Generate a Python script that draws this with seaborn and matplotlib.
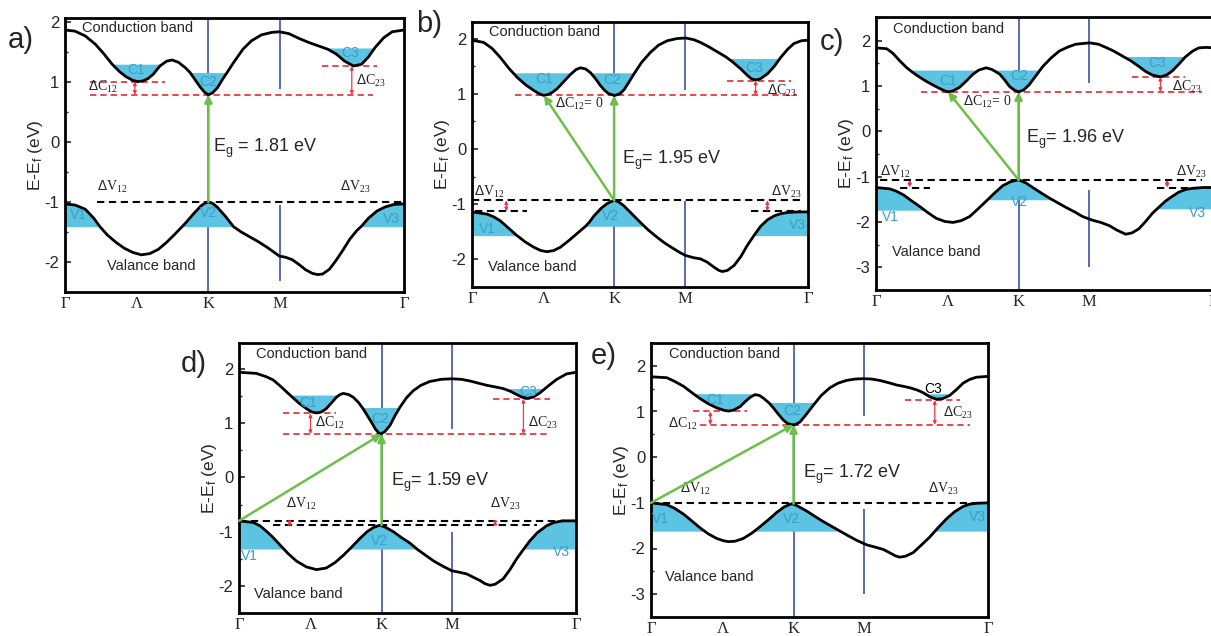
import matplotlib
matplotlib.use('Agg')
import matplotlib.pyplot as plt
import seaborn as sns
import numpy as np

# k-path (fraction of the Gamma-K-M-Gamma path)
k_ticks = [0.0, 0.213, 0.423, 0.633, 1.0]
k_labels = ['Γ', 'Λ', 'K', 'M', 'Γ']

# ---------------- panel a ----------------
a_k_cb = [0, .03, .06, .09, .115, .139, .16, .18, .20, .215, .23, .245, .26, .28, .30, .316, .335,
          .355, .369, .385, .40, .412, .423, .435, .45, .465, .478, .50, .525, .55, .58, .61, .632,
          .66, .69, .72, .75, .775, .80, .825, .851, .875, .895, .915, .94, .965, 1.0]
a_cb = [1.87, 1.85, 1.77, 1.63, 1.47, 1.30, 1.18, 1.09, 1.03, 1.01, 1.02, 1.06, 1.13, 1.27, 1.35,
        1.37, 1.33, 1.24, 1.16, 1.03, 0.91, 0.83, 0.79, 0.82, 0.91, 1.05, 1.16, 1.35, 1.55, 1.69,
        1.79, 1.83, 1.84, 1.81, 1.73, 1.66, 1.60, 1.55, 1.47, 1.35, 1.27, 1.30, 1.42, 1.58, 1.74,
        1.84, 1.87]
a_k_vb = [0, .03, .06, .085, .103, .125, .15, .175, .20, .225, .25, .275, .30, .325, .354, .38, .40,
          .412, .423, .435, .45, .475, .497, .52, .545, .57, .595, .615, .632, .65, .67, .69, .71,
          .73, .745, .76, .78, .80, .82, .84, .86, .875, .895, .92, .945, .97, 1.0]
a_vb = [-1.03, -1.05, -1.12, -1.27, -1.41, -1.55, -1.67, -1.77, -1.84, -1.88, -1.86, -1.79, -1.67,
        -1.53, -1.36, -1.19, -1.07, -1.02, -1.00, -1.02, -1.09, -1.25, -1.41, -1.50, -1.58, -1.66,
        -1.75, -1.83, -1.90, -1.92, -1.96, -2.04, -2.13, -2.19, -2.21, -2.20, -2.12, -1.97, -1.80,
        -1.62, -1.48, -1.40, -1.27, -1.15, -1.08, -1.04, -1.03]
a_c_fill = [1.30, 1.16, 1.57]
a_v_fill = [-1.41, -1.41, -1.41]
a_c_k = [0.215, 0.423, 0.851]     # k of C1, C2, C3 minima
a_c_min = [1.01, 0.79, 1.27]
a_v_max = [-1.00, -1.00, -1.00]   # V1, V2, V3 maxima
a_eg = 1.81

# ---------------- panel b ----------------
b_k_cb = [0, .035, .06, .084, .11, .134, .16, .184, .20, .214, .228, .24, .253, .273, .293, .31,
          .323, .338, .353, .368, .382, .395, .407, .425, .44, .452, .467, .482, .505, .531, .555,
          .581, .61, .636, .66, .68, .705, .73, .755, .775, .80, .82, .832, .844, .858, .879, .90,
          .919, .94, .958, .98, 1.0]
b_cb = [1.97, 1.93, 1.82, 1.66, 1.46, 1.30, 1.16, 1.06, 1.00, 0.97, 0.99, 1.03, 1.09, 1.22, 1.35,
        1.44, 1.47, 1.45, 1.38, 1.27, 1.15, 1.06, 1.00, 0.97, 1.00, 1.07, 1.21, 1.36, 1.57, 1.75,
        1.88, 1.96, 2.00, 2.01, 1.98, 1.93, 1.85, 1.76, 1.67, 1.58, 1.45, 1.33, 1.27, 1.25, 1.27,
        1.36, 1.50, 1.66, 1.81, 1.91, 1.96, 1.97]
b_k_vb = [0, .045, .065, .084, .11, .134, .16, .184, .205, .223, .243, .263, .288, .313, .338, .35,
          .362, .385, .402, .415, .425, .437, .452, .475, .501, .525, .551, .575, .601, .62, .636,
          .66, .68, .70, .72, .735, .745, .76, .78, .80, .819, .84, .859, .88, .90, .92, .94, .97,
          1.0]
b_vb = [-1.14, -1.18, -1.23, -1.30, -1.44, -1.57, -1.69, -1.78, -1.84, -1.86, -1.84, -1.78, -1.66,
        -1.53, -1.40, -1.32, -1.22, -1.07, -0.99, -0.95, -0.93, -0.96, -1.03, -1.17, -1.33, -1.47,
        -1.60, -1.71, -1.81, -1.88, -1.93, -1.97, -1.99, -2.05, -2.14, -2.20, -2.22, -2.20, -2.11,
        -1.95, -1.75, -1.56, -1.40, -1.28, -1.21, -1.17, -1.15, -1.14, -1.14]
b_c_fill = [1.38, 1.38, 1.64]
b_v_fill = [-1.57, -1.40, -1.57]
b_c_k = [0.214, 0.425, 0.844]
b_c_min = [0.97, 0.97, 1.24]
b_v_max = [-1.13, -0.93, -1.13]
b_eg = 1.95

# ---------------- panel c ----------------
c_k_cb = [0, .032, .05, .071, .09, .105, .12, .145, .169, .19, .205, .214, .228, .248, .268, .288,
          .305, .327, .345, .367, .382, .396, .41, .423, .438, .455, .475, .495, .52, .544, .57,
          .593, .634, .66, .682, .705, .731, .755, .78, .80, .82, .844, .862, .879, .90, .918, .94,
          .958, .98, 1.0]
c_cb = [1.84, 1.82, 1.72, 1.55, 1.41, 1.32, 1.24, 1.12, 1.02, 0.94, 0.89, 0.87, 0.89, 0.97, 1.11,
        1.26, 1.35, 1.40, 1.36, 1.26, 1.13, 0.99, 0.91, 0.87, 0.91, 1.03, 1.23, 1.43, 1.62, 1.77,
        1.86, 1.92, 1.95, 1.92, 1.85, 1.77, 1.66, 1.56, 1.43, 1.32, 1.24, 1.20, 1.24, 1.33, 1.49,
        1.64, 1.77, 1.84, 1.85, 1.84]
c_k_vb = [0, .041, .06, .081, .105, .13, .155, .179, .205, .229, .253, .278, .30, .327, .352, .376,
          .40, .423, .445, .465, .49, .514, .54, .564, .59, .613, .642, .667, .692, .715, .741, .76,
          .78, .80, .82, .84, .859, .88, .899, .92, .938, .97, 1.0]
c_vb = [-1.24, -1.27, -1.32, -1.40, -1.53, -1.66, -1.80, -1.92, -1.99, -2.01, -1.97, -1.88, -1.73,
        -1.54, -1.36, -1.20, -1.11, -1.07, -1.14, -1.24, -1.36, -1.47, -1.58, -1.68, -1.78, -1.88,
        -1.96, -2.01, -2.08, -2.18, -2.27, -2.24, -2.15, -1.99, -1.81, -1.67, -1.54, -1.43, -1.34,
        -1.28, -1.26, -1.24, -1.24]
c_c_fill = [1.35, 1.35, 1.65]
c_v_fill = [-1.74, -1.51, -1.71]
c_c_k = [0.214, 0.423, 0.844]
c_c_min = [0.87, 0.87, 1.20]
c_v_max = [-1.24, -1.07, -1.24]
c_eg = 1.96

# ---------------- panel d ----------------
d_k_cb = [0, .051, .08, .101, .12, .141, .16, .18, .20, .215, .23, .245, .259, .275, .289, .30,
          .309, .325, .339, .355, .368, .38, .393, .405, .418, .432, .448, .462, .477, .497, .517,
          .54, .566, .60, .631, .66, .685, .71, .735, .76, .784, .805, .824, .84, .855, .872, .893,
          .918, .943, .972, 1.0]
d_cb = [1.94, 1.92, 1.86, 1.80, 1.70, 1.58, 1.47, 1.36, 1.27, 1.21, 1.19, 1.21, 1.27, 1.38, 1.48,
        1.53, 1.55, 1.53, 1.48, 1.38, 1.27, 1.15, 1.02, 0.89, 0.80, 0.84, 0.96, 1.13, 1.29, 1.47,
        1.60, 1.70, 1.77, 1.81, 1.82, 1.81, 1.78, 1.74, 1.70, 1.67, 1.64, 1.59, 1.53, 1.48, 1.46,
        1.48, 1.56, 1.69, 1.81, 1.91, 1.94]
d_k_vb = [0, .042, .062, .081, .10, .121, .145, .170, .20, .23, .259, .285, .309, .335, .358, .38,
          .40, .418, .435, .458, .48, .507, .53, .557, .58, .606, .631, .655, .676, .695, .715, .73,
          .745, .76, .784, .804, .824, .845, .863, .885, .913, .935, .96, 1.0]
d_vb = [-0.80, -0.83, -0.89, -0.99, -1.10, -1.24, -1.40, -1.54, -1.65, -1.70, -1.67, -1.57, -1.44,
        -1.28, -1.13, -1.00, -0.92, -0.88, -0.92, -1.00, -1.10, -1.21, -1.33, -1.45, -1.55, -1.64,
        -1.72, -1.75, -1.78, -1.84, -1.90, -1.96, -1.99, -1.97, -1.87, -1.70, -1.50, -1.32, -1.17,
        -1.02, -0.89, -0.83, -0.80, -0.80]
d_c_fill = [1.52, 1.29, 1.64]
d_v_fill = [-1.32, -1.32, -1.32]
d_c_k = [0.23, 0.418, 0.855]
d_c_min = [1.18, 0.80, 1.45]
d_v_max = [-0.80, -0.88, -0.80]
d_eg = 1.59

# ---------------- panel e ----------------
e_k_cb = [0, .047, .07, .097, .12, .146, .17, .195, .215, .23, .245, .265, .28, .294, .309, .322,
          .334, .35, .363, .378, .393, .405, .418, .43, .442, .46, .482, .505, .531, .555, .58, .605,
          .63, .655, .679, .705, .729, .75, .768, .79, .808, .828, .847, .865, .886, .905, .926,
          .945, .965, 1.0]
e_cb = [1.76, 1.74, 1.66, 1.55, 1.42, 1.28, 1.17, 1.08, 1.03, 1.01, 1.03, 1.11, 1.22, 1.31, 1.37,
        1.35, 1.29, 1.19, 1.08, 0.94, 0.81, 0.74, 0.71, 0.72, 0.77, 0.93, 1.14, 1.35, 1.52, 1.62,
        1.68, 1.71, 1.72, 1.71, 1.68, 1.63, 1.58, 1.55, 1.52, 1.47, 1.41, 1.32, 1.27, 1.28, 1.35,
        1.47, 1.62, 1.70, 1.75, 1.77]
e_k_vb = [0, .047, .07, .097, .12, .146, .17, .195, .215, .23, .25, .274, .30, .324, .35, .373,
          .395, .41, .418, .43, .445, .462, .485, .511, .535, .561, .585, .61, .64, .665, .689, .71,
          .725, .738, .755, .778, .80, .827, .85, .877, .90, .926, .945, .965, 1.0]
e_vb = [-1.00, -1.04, -1.12, -1.25, -1.39, -1.55, -1.68, -1.78, -1.83, -1.85, -1.84, -1.78, -1.66,
        -1.52, -1.36, -1.21, -1.09, -1.04, -1.02, -1.05, -1.11, -1.18, -1.29, -1.41, -1.51, -1.62,
        -1.72, -1.82, -1.92, -1.97, -2.02, -2.10, -2.16, -2.19, -2.17, -2.09, -1.94, -1.75, -1.56,
        -1.35, -1.20, -1.08, -1.03, -1.01, -1.00]
e_c_fill = [1.39, 1.20, 1.39]
e_v_fill = [-1.62, -1.62, -1.62]
e_c_k = [0.23, 0.418, 0.847]
e_c_min = [1.00, 0.71, 1.25]
e_v_max = [-1.00, -1.02, -1.00]
e_eg = 1.72

FILL = '#5cc3e3'
LAB = '#3a9fc6'
RED = '#e63a44'
GREEN = '#6cc04a'
BLUE = '#4050a8'

sns.set_theme(style='ticks')
plt.rcParams['font.family'] = ['Liberation Sans', 'DejaVu Sans']
plt.rcParams['mathtext.fontset'] = 'custom'
plt.rcParams['mathtext.rm'] = 'Liberation Sans'
plt.rcParams['mathtext.it'] = 'Liberation Sans:italic'

# layout per panel (pixel box in the 1211x636 figure, axis limits, annotation spots)
panels = {
    'a': dict(k_cb=a_k_cb, cb=a_cb, k_vb=a_k_vb, vb=a_vb, cf=a_c_fill, vf=a_v_fill,
              ck=a_c_k, cmin=a_c_min, vmax=a_v_max, eg=a_eg, diag=None,
              box=(65, 404, 18, 292), ylim=(-2.32, 2.07), yt=[-2, -1, 0, 1, 2], tag=(8, 40),
              cb_txt=(0.049, 1.91), vb_txt=(0.123, -2.06), eg_xy=(0.437, -0.1), eg_sep=' = ',
              clab=[(0.21, 1.20), (0.423, 1.00), (0.84, 1.48)],
              vlab=[(0.04, -1.22), (0.423, -1.18), (0.963, -1.28)],
              c1_line=(0.074, 0.295), c2_line=(0.074, 0.910), c3_line=(0.757, 0.919),
              dc12=(0.206, (0.157, 0.93), 'right'), dc23=(0.846, (0.857, 1.02), 'left'),
              v_main=(0.093, 1.0), v1_line=None, v3_line=None, dv_arrows=None,
              dv12=(0.093, -0.88), dv23=(0.81, -0.88), m_gap=(0.88, -1.05)),
    'b': dict(k_cb=b_k_cb, cb=b_cb, k_vb=b_k_vb, vb=b_vb, cf=b_c_fill, vf=b_v_fill,
              ck=b_c_k, cmin=b_c_min, vmax=b_v_max, eg=b_eg, diag='k_to_c1',
              box=(472, 808, 22, 287), ylim=(-2.5, 2.3), yt=[-2, -1, 0, 1, 2], tag=(416, 24),
              cb_txt=(0.05, 2.11), vb_txt=(0.047, -2.14), eg_xy=(0.447, -0.21), eg_sep='= ',
              clab=[(0.214, 1.27), (0.417, 1.25), (0.839, 1.46)],
              vlab=[(0.047, -1.45), (0.412, -1.21), (0.968, -1.38)],
              c1_line=None, c2_line=(0.129, 0.968), c3_line=(0.760, 0.948),
              dc12=None, dc23=(0.844, (0.879, 1.06), 'left'), dc0=(0.248, 0.82),
              v_main=(0.0, 0.978), v1_line=(0.01, 0.164), v3_line=(0.829, 0.978),
              dv_arrows=(0.102, 0.879), dv12=(0.005, -0.93), dv23=(0.889, -0.93),
              m_gap=(1.06, -0.95)),
    'c': dict(k_cb=c_k_cb, cb=c_cb, k_vb=c_k_vb, vb=c_vb, cf=c_c_fill, vf=c_v_fill,
              ck=c_c_k, cmin=c_c_min, vmax=c_v_max, eg=c_eg, diag='k_to_c1',
              box=(876, 1213, 17, 290), ylim=(-3.0, 2.52), yt=[-3, -2, -1, 0, 1, 2], tag=(820, 42),
              cb_txt=(0.05, 2.26), vb_txt=(0.046, -2.66), eg_xy=(0.445, -0.19), eg_sep='= ',
              clab=[(0.214, 1.11), (0.426, 1.21), (0.834, 1.5)],
              vlab=[(0.043, -1.88), (0.426, -1.57), (0.953, -1.81)],
              c1_line=None, c2_line=(0.135, 0.967), c3_line=(0.761, 0.918),
              dc12=None, dc23=(0.844, (0.879, 0.98), 'left'), dc0=(0.258, 0.66),
              v_main=(0.012, 0.967), v1_line=(0.071, 0.160), v3_line=(0.834, 0.958),
              dv_arrows=(0.10, 0.864), dv12=(0.012, -1.07), dv23=(0.889, -1.07),
              m_gap=(1.06, -1.3)),
    'd': dict(k_cb=d_k_cb, cb=d_cb, k_vb=d_k_vb, vb=d_vb, cf=d_c_fill, vf=d_v_fill,
              ck=d_c_k, cmin=d_c_min, vmax=d_v_max, eg=d_eg, diag='g_to_k',
              box=(239, 576, 343, 613), ylim=(-2.48, 2.48), yt=[-2, -1, 0, 1, 2], tag=(181, 364),
              cb_txt=(0.05, 2.27), vb_txt=(0.044, -2.15), eg_xy=(0.452, -0.09), eg_sep='= ',
              clab=[(0.205, 1.38), (0.418, 1.08), (0.858, 1.58)],
              vlab=[(0.032, -1.44), (0.418, -1.18), (0.957, -1.38)],
              c1_line=(0.131, 0.289), c2_line=(0.131, 0.923), c3_line=(0.754, 0.923),
              dc12=(0.212, (0.225, 1.0), 'left'), dc23=(0.844, (0.858, 1.0), 'left'),
              v_main=(0.0, 1.0), v1_line=(0.10, 0.883), v3_line=None,
              dv_arrows=(0.15, 0.76), dv12=(0.14, -0.64), dv23=(0.745, -0.64),
              m_gap=(0.89, -1.0)),
    'e': dict(k_cb=e_k_cb, cb=e_cb, k_vb=e_k_vb, vb=e_vb, cf=e_c_fill, vf=e_v_fill,
              ck=e_c_k, cmin=e_c_min, vmax=e_v_max, eg=e_eg, diag='g_to_k',
              box=(651, 988, 343, 617), ylim=(-3.0, 2.5), yt=[-3, -2, -1, 0, 1, 2], tag=(591, 356),
              cb_txt=(0.052, 2.26), vb_txt=(0.042, -2.63), eg_xy=(0.452, -0.37), eg_sep='= ',
              clab=[(0.19, 1.26), (0.418, 1.02), (0.837, 1.49)],
              vlab=[(0.028, -1.35), (0.418, -1.35), (0.97, -1.31)],
              c1_line=(0.126, 0.284), c2_line=(0.146, 0.946), c3_line=(0.753, 0.916),
              dc12=(0.176, (0.05, 0.72), 'left'), dc23=(0.842, (0.867, 0.98), 'left'),
              v_main=(0.0, 0.985), v1_line=None, v3_line=None, dv_arrows=None,
              dv12=(0.087, -0.87), dv23=(0.822, -0.87), m_gap=(0.91, -1.14)),
}

c_win = [(0.05, 0.312), (0.312, 0.6), (0.7, 0.99)]
v_win = [(0.0, 0.25), (0.3, 0.56), (0.75, 1.0)]

W, H = 1211, 636
fig = plt.figure(figsize=(W / 100, H / 100), dpi=100)
dash = (0, (3.5, 2.2))
arr = dict(arrowstyle='<|-|>', color=RED, lw=0.9, mutation_scale=5, shrinkA=0, shrinkB=0)
garr = dict(arrowstyle='-|>', color=GREEN, lw=1.8, mutation_scale=11, shrinkA=0, shrinkB=0)
serif = dict(family='Liberation Serif', color='#222222', fontsize=10, zorder=6)

for key, p in panels.items():
    l, r, t, b = p['box']
    ax = fig.add_axes([l / W, 1 - b / H, (r - l) / W, (b - t) / H])
    k_cb, cb = np.array(p['k_cb']), np.array(p['cb'])
    k_vb, vb = np.array(p['k_vb']), np.array(p['vb'])
    y0, y1 = p['ylim']
    kK = k_ticks[2]

    # shaded valleys / hills
    for (w0, w1), lev in zip(c_win, p['cf']):
        ax.fill_between(k_cb, cb, lev, where=(cb <= lev) & (k_cb >= w0) & (k_cb <= w1),
                        interpolate=True, color=FILL, lw=0, zorder=1)
    for (w0, w1), lev in zip(v_win, p['vf']):
        ax.fill_between(k_vb, vb, lev, where=(vb >= lev) & (k_vb >= w0) & (k_vb <= w1),
                        interpolate=True, color=FILL, lw=0, zorder=1)

    # high-symmetry lines
    ax.axvline(kK, color=BLUE, lw=1.2, zorder=0.5)
    gt, gb = p['m_gap']
    ax.vlines(k_ticks[3], gt, y1, color=BLUE, lw=1.2, zorder=0.5)
    ax.vlines(k_ticks[3], y0, gb, color=BLUE, lw=1.2, zorder=0.5)

    # bands
    sns.lineplot(x=k_cb, y=cb, color='black', lw=2, ax=ax, zorder=4)
    sns.lineplot(x=k_vb, y=vb, color='black', lw=2, ax=ax, zorder=4)

    # conduction minima (red dashed) and offsets
    for span, lev in zip([p['c1_line'], p['c2_line'], p['c3_line']], p['cmin']):
        if span is not None:
            ax.hlines(lev, span[0], span[1], color=RED, lw=1.3, linestyles=dash, zorder=3)
    if p['dc12'] is not None:
        xk, (tx, ty), ha = p['dc12']
        ax.annotate('', xy=(xk, p['cmin'][0]), xytext=(xk, p['cmin'][1]), arrowprops=arr, zorder=5)
        ax.text(tx, ty, r'$\Delta$C$_{\mathregular{12}}$', ha=ha, va='center', **serif)
    else:
        tx, ty = p['dc0']
        ax.text(tx, ty, r'$\Delta$C$_{\mathregular{12}}$= 0', ha='left', va='center', **serif)
    xk, (tx, ty), ha = p['dc23']
    ax.annotate('', xy=(xk, p['cmin'][2]), xytext=(xk, p['cmin'][1]), arrowprops=arr, zorder=5)
    ax.text(tx, ty, r'$\Delta$C$_{\mathregular{23}}$', ha=ha, va='center', **serif)

    # valence maxima (black dashed)
    top_v, low_v = max(p['vmax']), min(p['vmax'])
    ax.hlines(top_v, p['v_main'][0], p['v_main'][1], color='black', lw=1.5, linestyles=dash, zorder=3)
    for span in (p['v1_line'], p['v3_line']):
        if span is not None:
            ax.hlines(low_v, span[0], span[1], color='black', lw=1.5, linestyles=dash, zorder=3)
    if p['dv_arrows'] is not None:
        for xa in p['dv_arrows']:
            ax.annotate('', xy=(xa, low_v), xytext=(xa, top_v), arrowprops=arr, zorder=5)
    ax.text(*p['dv12'], r'$\Delta$V$_{\mathregular{12}}$', ha='left', va='bottom', **serif)
    ax.text(*p['dv23'], r'$\Delta$V$_{\mathregular{23}}$', ha='left', va='bottom', **serif)

    # band gap arrows
    ax.annotate('', xy=(kK, p['cmin'][1]), xytext=(kK, p['vmax'][1]), arrowprops=garr, zorder=6)
    if p['diag'] == 'k_to_c1':
        ax.annotate('', xy=(p['ck'][0], p['cmin'][0]), xytext=(kK, p['vmax'][1]),
                    arrowprops=garr, zorder=6)
    elif p['diag'] == 'g_to_k':
        ax.annotate('', xy=(kK, p['cmin'][1]), xytext=(0.0, p['vmax'][0]),
                    arrowprops=garr, zorder=6)
    ax.text(*p['eg_xy'], 'E$_\\mathregular{g}$' + p['eg_sep'] + f'{p["eg"]:.2f} eV', fontsize=13,
            ha='left', va='center', zorder=6)

    # labels
    for i, (lx, ly) in enumerate(p['clab']):
        col = 'black' if (key == 'e' and i == 2) else LAB
        ax.text(lx, ly, f'C{i + 1}', color=col, fontsize=10, ha='center', va='center', zorder=5)
    for i, (lx, ly) in enumerate(p['vlab']):
        ax.text(lx, ly, f'V{i + 1}', color=LAB, fontsize=10, ha='center', va='center', zorder=5)
    ax.text(*p['cb_txt'], 'Conduction band', fontsize=10.5, ha='left', va='center', zorder=6)
    ax.text(*p['vb_txt'], 'Valance band', fontsize=10.5, ha='left', va='center', zorder=6)

    ax.set_xlim(0, 1)
    ax.set_ylim(y0, y1)
    ax.set_xticks(k_ticks)
    ax.set_xticklabels(k_labels, fontsize=12, family='Liberation Serif')
    ax.set_yticks(p['yt'])
    ax.set_yticklabels([str(v) for v in p['yt']], fontsize=12)
    ax.set_yticks(np.arange(p['yt'][0] - 0.5, y1, 0.5), minor=True)
    ax.tick_params(axis='x', length=0, pad=3)
    ax.tick_params(axis='y', direction='in', length=4, width=1.2, pad=4)
    ax.tick_params(axis='y', which='minor', direction='in', length=2.5, width=1)
    ax.set_xlabel('')
    ax.set_ylabel('E-E$_\\mathregular{f}$ (eV)', fontsize=12.5, labelpad=0)
    for s in ax.spines.values():
        s.set_linewidth(2)
        s.set_color('black')

    fig.text(p['tag'][0] / W, 1 - p['tag'][1] / H, f'{key})', fontsize=21, ha='left', va='center')

fig.savefig('out.png', dpi=100)
